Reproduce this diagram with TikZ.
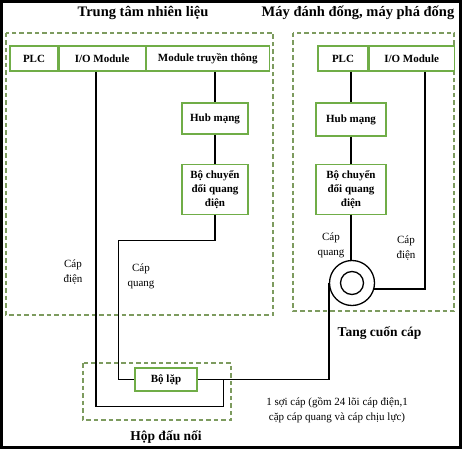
\documentclass[tikz,border=0pt]{standalone}
\usepackage{fontspec}
\setmainfont{Liberation Serif}
\usepackage{tikz}
\usetikzlibrary{positioning,calc}
\definecolor{boxgreen}{RGB}{112,173,71}
\definecolor{zonegreen}{RGB}{125,155,95}
\tikzset{
  unit/.style={rectangle,draw=boxgreen,line width=1.1pt,fill=white,align=center,inner sep=0pt,minimum height=25pt,font=\fontsize{11}{14}\selectfont\bfseries},
  zone/.style={draw=zonegreen,line width=1.1pt,dash pattern=on 4.5pt off 3pt},
  cable/.style={line width=1.3pt},
  drum/.style={circle,draw=black,line width=1.3pt,inner sep=0pt},
  title/.style={font=\fontsize{14.5}{18}\selectfont\bfseries},
  subtitle/.style={font=\fontsize{13.5}{16}\selectfont\bfseries},
  note/.style={align=center,font=\fontsize{11}{15}\selectfont}
}
\begin{document}
\begin{tikzpicture}[x=1pt,y=-1pt]
  \useasboundingbox (0,0) rectangle (462,449);
  \draw[line width=3pt] (1.5,1.5) rectangle (460.5,447.5);
  % vung
  \draw[zone] (6,33) rectangle (273,315);
  \draw[zone] (293,33) rectangle (454,311);
  \draw[zone] (83,363) rectangle (231,420);
  \node[title] (titleA) at (143,13) {Trung tâm nhiên liệu};
  \node[title] (titleB) at (358,13) {Máy đánh đống, máy phá đống};
  \node[subtitle] (hopLabel) at (166,437) {Hộp đấu nối};
  \node[subtitle] (tangLabel) at (379.5,333) {Tang cuốn cáp};
  % trung tam nhien lieu
  \node[unit,minimum width=48pt] (plcA) at (34,58.5) {PLC};
  \node[unit,minimum width=86pt,right=0pt of plcA] (ioA) {I/O Module};
  \node[unit,minimum width=123pt,right=0pt of ioA] (modA) {Module truyền thông};
  \node[unit,minimum width=66pt,minimum height=31pt] (hubA) at (215,118.5) {Hub mạng};
  \node[unit,minimum width=66pt,minimum height=50pt,below=29pt of hubA] (convA) {Bộ chuyển\\đổi quang\\điện};
  % may danh dong
  \node[unit,minimum width=50pt] (plcB) at (343,58.5) {PLC};
  \node[unit,minimum width=85pt,right=0pt of plcB] (ioB) {I/O Module};
  \node[unit,minimum width=70pt,minimum height=33pt] (hubB) at (351,119.5) {Hub mạng};
  \node[unit,minimum width=70pt,minimum height=50pt,below=27pt of hubB] (convB) {Bộ chuyển\\đổi quang\\điện};
  % hop dau noi
  \node[unit,minimum width=62pt,minimum height=23pt] (lap) at (166,379.5) {Bộ lặp};
  % tang cuon
  \node[drum,minimum size=45pt] (drum) at (352,283) {};
  \node[drum,minimum size=23pt] (core) at (drum) {};
  % cap
  \draw[cable] (hubA.north |- modA.south) -- (hubA.north);
  \draw[cable] (hubA) -- (convA);
  \draw[cable] (convA.south) -- ++(0,26) -| ([xshift=-16pt]lap.west) -- (lap.west);
  \draw[cable] ([xshift=-6pt]ioA.south) -- ++(0,335) -| ([xshift=26pt]lap.east);
  \draw[cable] (lap.east) -| (drum.west);
  \draw[cable] (hubB.north |- plcB.south) -- (hubB.north);
  \draw[cable] (hubB) -- (convB);
  \draw[cable] (convB.south) -- (convB.south |- drum.north);
  \draw[cable] ([xshift=13.5pt]ioB.south) |- (drum.-15);
  % nhan
  \node[note] (dienA) at (73,272) {Cáp\\điện};
  \node[note] (quangA) at (141,276) {Cáp\\quang};
  \node[note] (quangB) at (331,245) {Cáp\\quang};
  \node[note] (dienB) at (406,248) {Cáp\\điện};
  \node[note] (capNote) at (337,410) {1 sợi cáp (gồm 24 lõi cáp điện,1\\cặp cáp quang và cáp chịu lực)};
\end{tikzpicture}
\end{document}
